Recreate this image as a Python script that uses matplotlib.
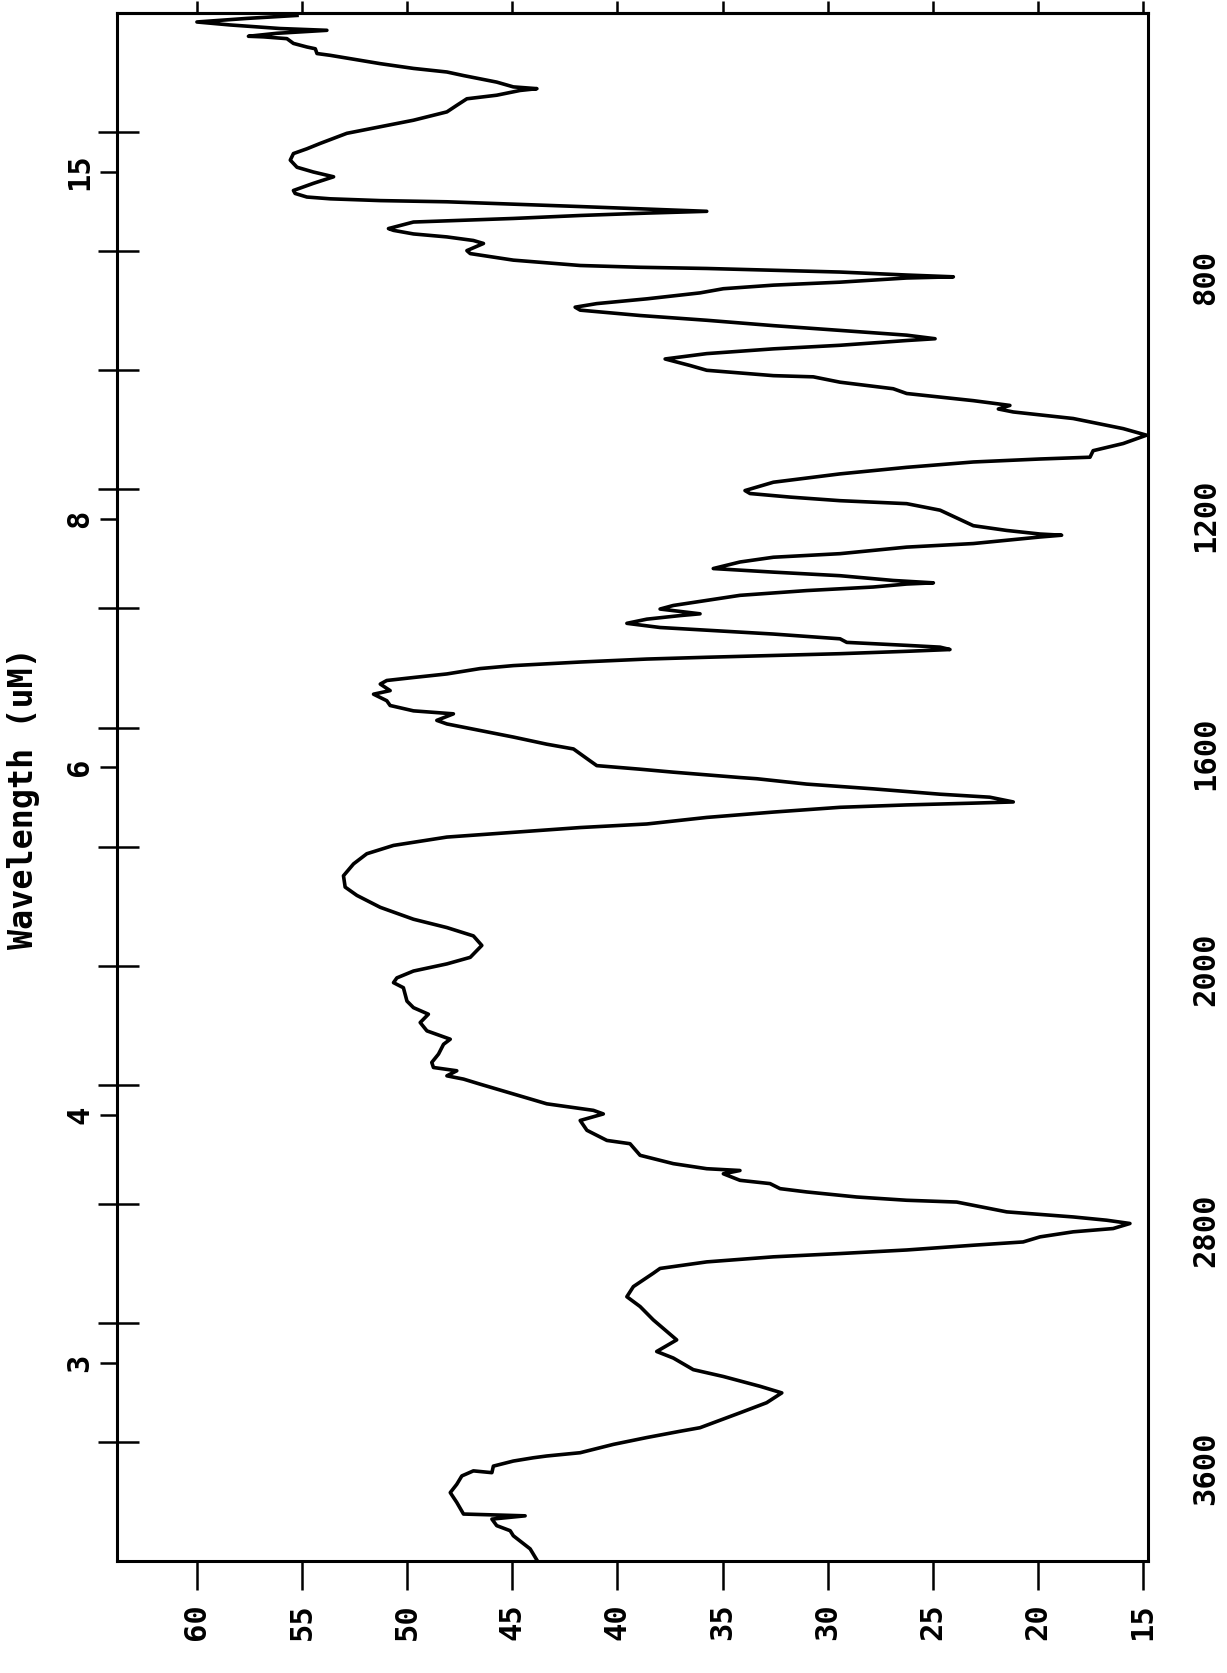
import numpy as np
import matplotlib
matplotlib.use("Agg")
import matplotlib.pyplot as plt
from matplotlib import transforms

# ---------------- data ----------------
wavenumber = [
    4000, 3959, 3915, 3898, 3881, 3859, 3848, 3842, 3803, 3770,
    3742, 3714, 3697, 3703, 3681, 3664, 3653, 3647, 3636, 3608,
    3585, 3564, 3552, 3502, 3468, 3435, 3413, 3380, 3357, 3318,
    3296, 3257, 3190, 3145, 3112, 3078, 3033, 3017, 2995, 2978,
    2967, 2955, 2939, 2928, 2911, 2894, 2883, 2866, 2855, 2844,
    2827, 2805, 2794, 2788, 2777, 2760, 2749, 2732, 2721, 2699,
    2688, 2682, 2665, 2637, 2598, 2587, 2553, 2520, 2498, 2486,
    2464, 2431, 2398, 2381, 2370, 2353, 2342, 2325, 2297, 2264,
    2247, 2219, 2191, 2163, 2141, 2119, 2074, 2057, 2041, 2018,
    1997, 1986, 1966, 1950, 1936, 1922, 1902, 1882, 1868, 1849,
    1829, 1812, 1798, 1784, 1776, 1768, 1762, 1751, 1742, 1734,
    1730, 1727, 1725, 1717, 1712, 1703, 1695, 1686, 1684, 1675,
    1670, 1664, 1656, 1644, 1636, 1628, 1616, 1605, 1594, 1588,
    1577, 1572, 1563, 1555, 1544, 1538, 1527, 1521, 1516, 1510,
    1501, 1496, 1490, 1485, 1482, 1479, 1476, 1472, 1469, 1465,
    1462, 1457, 1451, 1443, 1432, 1425, 1418, 1412, 1409, 1401,
    1395, 1378, 1370, 1364, 1359, 1357, 1353, 1345, 1339, 1333,
    1322, 1314, 1308, 1297, 1291, 1280, 1277, 1275, 1269, 1261,
    1235, 1224, 1219, 1213, 1207, 1202, 1188, 1174, 1163, 1154,
    1149, 1146, 1135, 1123, 1109, 1098, 1081, 1070, 1065, 1059,
    1051, 1039, 1031, 1020, 1011, 1009, 1000, 992, 981, 972,
    964, 958, 950, 947, 941, 933, 925, 916, 908, 899,
    894, 888, 880, 870, 863, 857, 852, 845, 843, 840,
    835, 832, 829, 827, 824, 815, 804, 799, 787, 782,
    776, 771, 765, 762, 751, 745, 740, 736, 733, 725,
    721, 717, 715, 712, 709, 703, 698, 686, 675, 667,
    659, 647, 636, 628, 619, 602, 591, 580, 566, 555,
    544, 538, 530, 527, 524, 516, 505, 499, 493, 485,
    471, 468, 460, 457, 451, 443, 440, 439, 434, 429,
    426, 420, 415, 409, 404,
]
transmittance = [
    43.8, 44.15, 44.95, 45.10, 45.74, 45.97, 44.39, 47.32, 47.64, 47.95,
    47.64, 47.40, 46.85, 45.97, 45.90, 44.95, 44.0, 43.36, 41.77, 40.19,
    38.60, 37.02, 36.07, 34.17, 32.90, 32.18, 33.21, 34.96, 36.39, 37.34,
    38.13, 37.18, 38.29, 38.92, 39.55, 39.24, 38.29, 37.97, 35.75, 32.58,
    29.41, 26.24, 23.07, 20.70, 19.90, 18.32, 16.42, 15.62, 16.73, 18.32,
    21.48, 23.07, 23.86, 26.24, 28.62, 31.0, 32.26, 32.74, 34.17, 34.96,
    34.17, 35.75, 37.34, 38.92, 39.40, 40.50, 41.45, 41.77, 40.67, 41.14,
    43.36, 44.95, 46.53, 47.32, 48.11, 47.64, 48.75, 48.83, 48.51, 48.27,
    47.95, 49.06, 49.38, 48.99, 49.70, 50.01, 50.18, 50.65, 50.49, 49.70,
    48.11, 47.0, 46.45, 46.85, 48.11, 49.70, 51.28, 52.39, 52.95, 53.03,
    52.55, 51.92, 50.65, 48.11, 44.95, 41.77, 38.60, 35.75, 32.58, 29.41,
    26.24, 23.07, 21.17, 22.29, 24.65, 27.83, 31.0, 33.37, 34.17, 37.34,
    38.92, 40.98, 41.30, 41.77, 42.09, 43.36, 44.95, 46.53, 48.11, 48.59,
    47.80, 49.70, 50.81, 50.97, 51.60, 50.81, 51.28, 50.97, 49.70, 48.11,
    46.53, 44.95, 41.77, 38.60, 35.75, 32.58, 29.41, 26.24, 24.18, 24.65,
    26.24, 29.09, 29.41, 32.58, 37.97, 39.55, 38.60, 37.02, 36.07, 37.97,
    37.34, 34.17, 31.0, 27.83, 26.24, 24.97, 26.88, 29.41, 32.58, 35.44,
    34.17, 32.58, 29.41, 26.24, 23.07, 19.90, 18.87, 19.90, 21.48, 23.07,
    24.65, 26.24, 29.41, 31.78, 33.69, 33.93, 32.58, 29.41, 26.24, 23.07,
    19.90, 17.52, 17.37, 15.94, 14.83, 15.94, 18.32, 21.17, 21.88, 21.33,
    23.07, 26.24, 26.88, 29.41, 30.68, 32.58, 35.75, 36.54, 37.73, 35.75,
    32.58, 29.41, 26.24, 24.89, 26.24, 29.41, 32.58, 35.75, 38.92, 41.77,
    42.01, 40.98, 38.60, 36.07, 34.96, 32.58, 29.41, 26.24, 24.02, 26.24,
    29.41, 32.58, 35.75, 38.92, 41.77, 44.95, 47.0, 47.16, 46.37, 46.85,
    48.11, 49.70, 50.65, 50.89, 49.70, 44.95, 41.77, 38.60, 35.75, 41.77,
    44.95, 48.11, 51.28, 53.66, 54.77, 55.33, 55.41, 54.46, 53.50, 54.46,
    55.24, 55.56, 55.41, 54.77, 54.14, 52.87, 51.28, 49.70, 48.11, 47.64,
    47.16, 45.74, 44.63, 43.83, 44.95, 45.74, 47.32, 48.11, 49.70, 51.28,
    53.66, 54.29, 54.37, 54.77, 55.41, 55.72, 56.83, 57.55, 56.20, 53.82,
    56.04, 58.42, 60.0, 57.62, 55.24,
]

t_ticks = [60, 55, 50, 45, 40, 35, 30, 25, 20, 15]
t_labels = ["60", "55", "50", "45", "40", "35", "30", "25", "20", "15"]
wn_ticks = [600, 800, 1000, 1200, 1400, 1600, 1800, 2000, 2400, 2800, 3200, 3600]
wn_label_pos = [800, 1200, 1600, 2000, 2800, 3600]
wn_label_txt = ["800", "1200", "1600", "2000", "2800", "3600"]
wl_ticks = [15, 8, 6, 4, 3]
wl_labels = ["15", "8", "6", "4", "3"]
ylabel_text = "Wavelength (uM)"

FONT = "DejaVu Sans Mono"
LABEL_SIZE = 22


# IR chart: scale halves above 2000 cm-1
def fwd(w):
    w = np.asarray(w, dtype=float)
    return np.where(w <= 2000, w, 2000 + (w - 2000) / 2.0)


def inv(v):
    v = np.asarray(v, dtype=float)
    return np.where(v <= 2000, v, 2000 + (v - 2000) * 2.0)


fig = plt.figure(figsize=(12.27, 16.73), dpi=100)
ax = fig.add_axes([0.0954, 0.0669, 0.8404, 0.9253])


def setup(a):
    a.set_yscale("function", functions=(fwd, inv))
    a.set_ylim(4000, 400)
    a.set_xlim(63.8, 14.75)


setup(ax)
ax.plot(transmittance, wavenumber, color="black", lw=2.6, solid_joinstyle="round")

for s in ax.spines.values():
    s.set_linewidth(2.2)

# bottom ticks (transmittance)
ax.set_xticks(t_ticks)
ax.tick_params(axis="x", direction="out", length=21, width=1.8, bottom=True,
               top=False, labelbottom=False)
# right ticks (wavenumber)
ax.set_yticks(wn_ticks)
ax.yaxis.set_minor_locator(matplotlib.ticker.NullLocator())
ax.xaxis.set_minor_locator(matplotlib.ticker.NullLocator())
ax.tick_params(axis="y", direction="out", length=14, width=1.8, left=False,
               right=True, labelleft=False, labelright=False)

# top ticks
axt = ax.secondary_xaxis("top")
axt.set_xticks(t_ticks)
axt.tick_params(axis="x", direction="out", length=9, width=1.8, labeltop=False)
axt.spines["top"].set_linewidth(2.2)

# left inward ticks (wavenumber positions)
axl = ax.twinx()
setup(axl)
axl.yaxis.tick_left()
axl.set_yticks(wn_ticks)
axl.yaxis.set_minor_locator(matplotlib.ticker.NullLocator())
axl.tick_params(axis="y", direction="in", length=16, width=1.8, labelleft=False,
                labelright=False, right=False)
for s in axl.spines.values():
    s.set_visible(False)

# left outward ticks (wavelength, um)
axw = ax.twinx()
setup(axw)
axw.yaxis.tick_left()
axw.set_yticks([1e4 / w for w in wl_ticks])
axw.yaxis.set_minor_locator(matplotlib.ticker.NullLocator())
axw.tick_params(axis="y", direction="out", length=12, width=1.8, labelleft=False,
                labelright=False, right=False)
for s in axw.spines.values():
    s.set_visible(False)

# labels (rotated like the original page)
tb = transforms.blended_transform_factory(ax.transData, ax.transAxes)
for t, lab in zip(t_ticks, t_labels):
    ax.text(t, -0.0394, lab, transform=tb, rotation=90, ha="center", va="center",
            fontsize=LABEL_SIZE, family=FONT, fontweight="bold")

tr = transforms.blended_transform_factory(ax.transAxes, ax.transData)
for w, lab in zip(wn_label_pos, wn_label_txt):
    shift = -4 if w == 2000 else -26   # labels sit slightly below their ticks
    trs = transforms.offset_copy(tr, fig=fig, x=0, y=shift, units="dots")
    ax.text(1.056, w, lab, transform=trs, rotation=90, ha="center", va="center",
            fontsize=LABEL_SIZE, family=FONT, fontweight="bold")

for wl, lab in zip(wl_ticks, wl_labels):
    ax.text(-0.036, 1e4 / wl, lab, transform=tr, rotation=90, ha="center",
            va="center", fontsize=LABEL_SIZE, family=FONT, fontweight="bold")

ax.text(-0.0905, 1719, ylabel_text, transform=tr, rotation=90, ha="center",
        va="center", fontsize=24, family=FONT, fontweight="bold")

fig.savefig("out.png", dpi=100)
